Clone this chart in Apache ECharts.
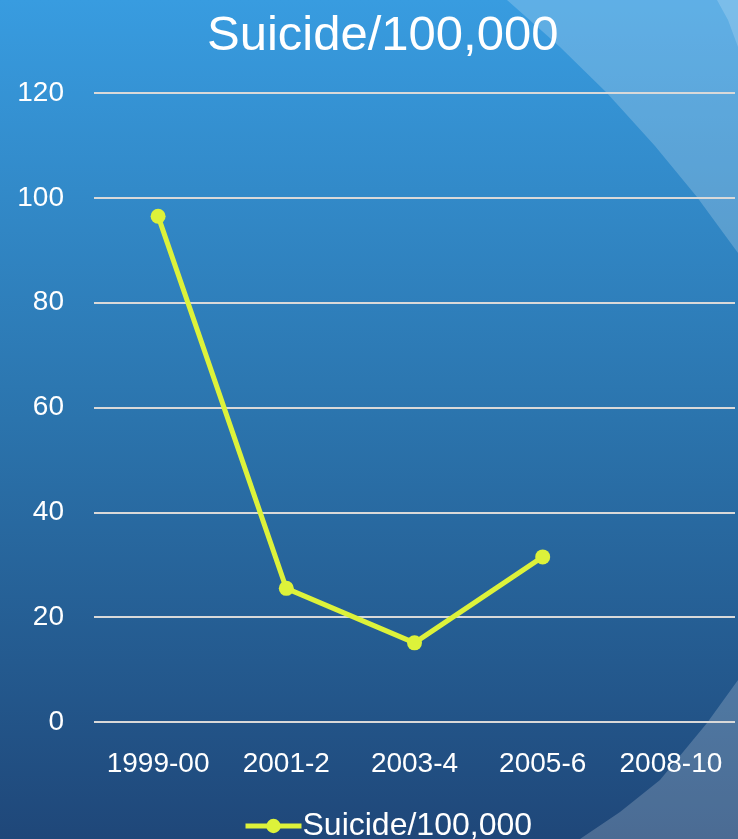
<!DOCTYPE html>
<html>
<head>
    <meta charset="UTF-8">
    <title>Suicide/100,000</title>
    <script src="https://cdn.jsdelivr.net/npm/echarts@6/dist/echarts.min.js"></script>
    <style>
        html, body { margin: 0; padding: 0; }
        #main { width: 738px; height: 839px; }
    </style>
</head>
<body>
<div id="main"></div>
<script>
    // data
    var periods = ['1999-00', '2001-2', '2003-4', '2005-6', '2008-10'];
    var suicideRate = [96.5, 25.5, 15.1, 31.5, null];
    var seriesName = 'Suicide/100,000';
    var yMin = 0, yMax = 120, yStep = 20;

    var font = '"Liberation Sans", Arial, sans-serif';
    var lineColor = '#ddf23a';

    var myChart = echarts.init(document.getElementById('main'));

    var option = {
        animation: false,
        // slide background: blue gradient with lighter curved bands at the right
        graphic: [
            {
                type: 'rect', z: -10, silent: true,
                shape: { x: 0, y: 0, width: 738, height: 839 },
                style: {
                    fill: {
                        type: 'linear', x: 0, y: 0, x2: 0, y2: 1,
                        colorStops: [
                            { offset: 0, color: '#389ce0' },
                            { offset: 0.5, color: '#2b74ad' },
                            { offset: 1, color: '#1f4779' }
                        ]
                    }
                }
            },
            {
                type: 'polygon', z: -9, silent: true,
                shape: { points: [[507, 0], [560, 47], [607, 93], [655, 146], [697, 197], [738, 253], [738, 0]] },
                style: { fill: 'rgba(255,255,255,0.2)' }
            },
            {
                type: 'polygon', z: -8, silent: true,
                shape: { points: [[717, 0], [728, 20], [738, 47], [738, 0]] },
                style: { fill: 'rgba(255,255,255,0.18)' }
            },
            {
                type: 'polygon', z: -9, silent: true,
                shape: { points: [[738, 680], [707, 723], [660, 780], [620, 812], [580, 839], [738, 839]] },
                style: { fill: 'rgba(255,255,255,0.2)' }
            }
        ],
        title: {
            text: seriesName,
            left: 202,
            top: 7,
            textStyle: {
                color: '#ffffff',
                fontFamily: font,
                fontSize: 49,
                fontWeight: 'normal'
            }
        },
        legend: {
            data: [seriesName],
            left: 238,
            top: 805,
            itemWidth: 56,
            itemHeight: 18,
            itemGap: 0,
            lineStyle: { width: 5 },
            textStyle: {
                color: '#ffffff',
                fontFamily: font,
                fontSize: 32,
                padding: [0, 0, 0, -4]
            }
        },
        grid: {
            left: 94,
            right: 3,
            top: 93,
            bottom: 117
        },
        xAxis: {
            type: 'category',
            data: periods,
            boundaryGap: true,
            axisLine: { show: false },
            axisTick: { show: false },
            axisLabel: {
                color: '#ffffff',
                fontFamily: font,
                fontSize: 28,
                margin: 28,
                interval: 0
            }
        },
        yAxis: {
            type: 'value',
            min: yMin,
            max: yMax,
            interval: yStep,
            axisLine: { show: false },
            axisTick: { show: false },
            axisLabel: {
                color: '#ffffff',
                fontFamily: font,
                fontSize: 28,
                margin: 30
            },
            splitLine: {
                lineStyle: { color: '#d9d9d9', width: 2 }
            }
        },
        series: [
            {
                name: seriesName,
                type: 'line',
                data: suicideRate,
                symbol: 'circle',
                symbolSize: 15,
                lineStyle: { color: lineColor, width: 5 },
                itemStyle: { color: lineColor }
            }
        ]
    };

    myChart.setOption(option);
</script>
</body>
</html>
